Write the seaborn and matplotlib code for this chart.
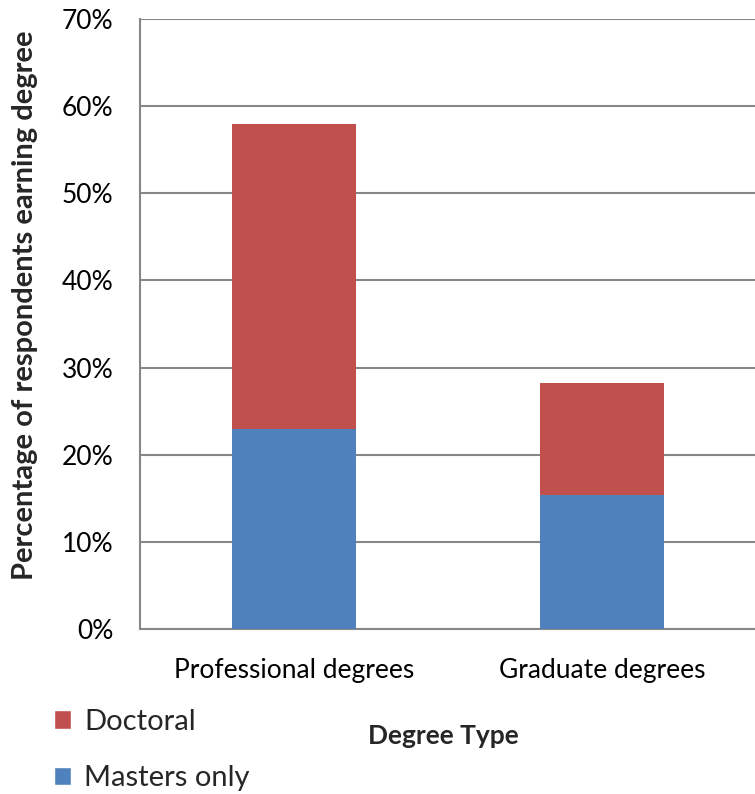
import matplotlib
matplotlib.use("Agg")
import matplotlib.pyplot as plt
import seaborn as sns
import pandas as pd
from matplotlib.patches import Patch
from matplotlib.ticker import MultipleLocator, PercentFormatter

categories = ["Professional degrees", "Graduate degrees"]
masters_only = [23.0, 15.4]
doctoral = [35.0, 12.8]

sns.set_theme(style="white")
plt.rcParams["font.family"] = ["Lato", "DejaVu Sans"]

RED = "#C0504D"
BLUE = "#4F81BD"
GRID = "#878787"

df = pd.DataFrame({
    "Degree": categories,
    "Masters": masters_only,
    "Total": [m + d for m, d in zip(masters_only, doctoral)],
})

fig = plt.figure(figsize=(7.55, 7.94), dpi=100)
ax = fig.add_axes([140 / 755, 1 - 629 / 794, 616 / 755, 610 / 794])

# Stacked bars: totals in red, the masters-only share drawn over them in blue
sns.barplot(data=df, x="Degree", y="Total", color=RED, width=0.4,
            saturation=1, linewidth=0, ax=ax, zorder=3)
sns.barplot(data=df, x="Degree", y="Masters", color=BLUE, width=0.4,
            saturation=1, linewidth=0, ax=ax, zorder=4)

ax.set_ylim(0, 70)
ax.set_xlim(-0.5, 1.5)
ax.yaxis.set_major_locator(MultipleLocator(10))
ax.yaxis.set_major_formatter(PercentFormatter(decimals=0))
ax.grid(axis="y", color=GRID, linewidth=1.5, zorder=0)
ax.set_axisbelow(True)

for side in ["top", "right"]:
    ax.spines[side].set_visible(False)
for side in ["left", "bottom"]:
    ax.spines[side].set_color(GRID)
    ax.spines[side].set_linewidth(1.5)

ax.tick_params(axis="both", which="both", length=0, labelsize=19,
               colors="black")
ax.tick_params(axis="x", pad=21)
ax.tick_params(axis="y", pad=19)

ax.set_xlabel("Degree Type", fontsize=19, fontweight="bold")
ax.xaxis.set_label_coords((443 - 140) / 616, -(736 - 629) / 610)
ax.set_ylabel("Percentage of respondents earning degree", fontsize=21,
              fontweight="bold")
ax.yaxis.set_label_coords(-(140 - 25) / 616, (629 - 305) / 610)
ax.yaxis.label.set_va("center")
ax.xaxis.label.set_va("center")

handles = [Patch(facecolor=RED, label="Doctoral"),
           Patch(facecolor=BLUE, label="Masters only")]
fig.legend(handles=handles, loc="upper left",
           bbox_to_anchor=(39 / 755, 1 - 694 / 794), frameon=False,
           fontsize=21, handlelength=0.6, handleheight=0.6,
           handletextpad=0.45, labelspacing=1.05, borderpad=0)

fig.savefig("out.png", dpi=100)
